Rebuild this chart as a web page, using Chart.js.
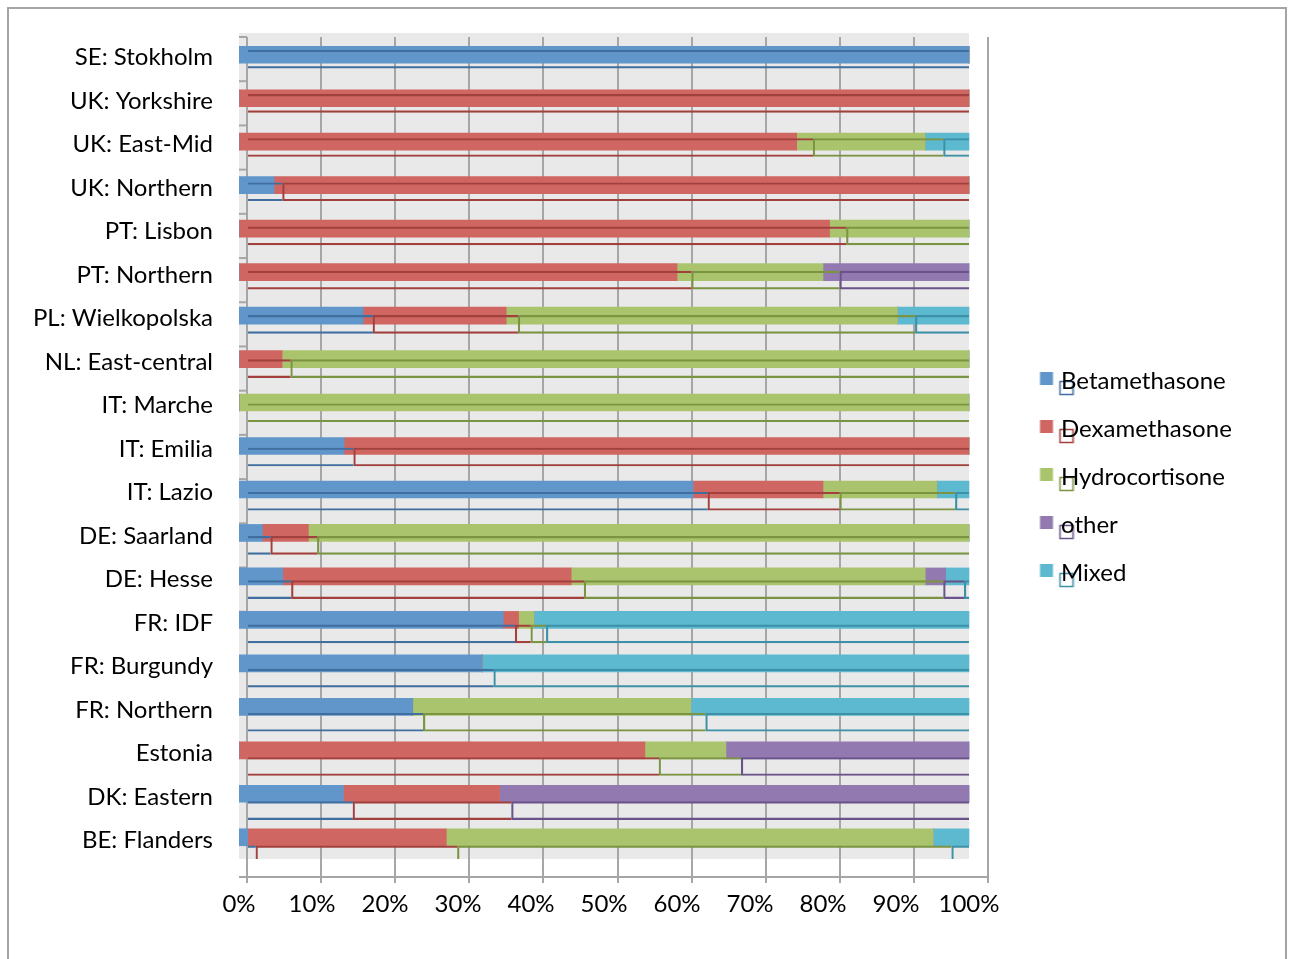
<!DOCTYPE html>
<html>
<head>
<meta charset="utf-8">
<script src="https://cdn.jsdelivr.net/npm/chart.js@4.4.1/dist/chart.umd.min.js"></script>
<style>
  html, body { margin: 0; padding: 0; background: #ffffff; }
  #frame { position: absolute; left: 7px; top: 7px; width: 1280px; height: 1010px; border: 2px solid #a4a4a4; box-sizing: border-box; }
  #wrap { position: absolute; left: 0; top: 0; width: 1294px; height: 959px; }
</style>
</head>
<body>
<div id="frame"></div>
<div id="wrap"><canvas id="chart" width="1294" height="959"></canvas></div>
<script>
// Share of each corticosteroid used, per region (percent of cases)
const regions = [
  'SE: Stokholm', 'UK: Yorkshire', 'UK: East-Mid', 'UK: Northern', 'PT: Lisbon',
  'PT: Northern', 'PL: Wielkopolska', 'NL: East-central', 'IT: Marche', 'IT: Emilia',
  'IT: Lazio', 'DE: Saarland', 'DE: Hesse', 'FR: IDF', 'FR: Burgundy',
  'FR: Northern', 'Estonia', 'DK: Eastern', 'BE: Flanders'
];
const drugNames = ['Betamethasone', 'Dexamethasone', 'Hydrocortisone', 'other', 'Mixed'];

const betamethasone  = [100, 0, 0, 4.8, 0, 0, 17.0, 0, 0, 14.4, 62.2, 3.2, 6.0, 36.2, 33.3, 23.8, 0, 14.3, 1.2];
const dexamethasone  = [0, 100, 76.4, 95.2, 80.9, 60.0, 19.6, 5.9, 0, 85.6, 17.8, 6.3, 39.5, 2.1, 0, 0, 55.6, 21.4, 27.2];
const hydrocortisone = [0, 0, 17.6, 0, 19.1, 20.0, 53.6, 94.1, 100, 0, 15.6, 90.5, 48.5, 2.1, 0, 38.1, 11.1, 0, 66.7];
const other          = [0, 0, 0, 0, 0, 20.0, 0, 0, 0, 0, 0, 0, 2.8, 0, 0, 0, 33.3, 64.3, 0];
const mixed          = [0, 0, 6.0, 0, 0, 0, 9.8, 0, 0, 0, 4.4, 0, 3.2, 59.6, 66.7, 38.1, 0, 0, 4.9];

const percentTicks = [0, 10, 20, 30, 40, 50, 60, 70, 80, 90, 100];

const series = [betamethasone, dexamethasone, hydrocortisone, other, mixed];
const faceColors = ['#6096ca', '#cf6661', '#aac46e', '#927ab0', '#5cb9cf'];
const edgeColors = ['#3f6e9f', '#a2403d', '#7b9442', '#6a538a', '#3d91a7'];
const gridColor = '#a6a6a6';
const fontFamily = 'Lato, "DejaVu Sans", sans-serif';
const labelFont = { family: fontFamily, size: 24 };

// Legend geometry: the legend sits right of the plot, its swatches starting 24px in
const legendPad = 24, legendSwatch = 9;
const measureCtx = document.createElement('canvas').getContext('2d');
measureCtx.font = '24px ' + fontFamily;
const widestName = Math.max(...drugNames.map(n => measureCtx.measureText(n).width));
const legendWidth = legendPad + legendSwatch + 12 + widestName + 10;
const legendLeft = 1016;
const rightPad = Math.max(0, 1294 - legendLeft - legendWidth);

// Legend icon: a filled face square with its depth outline just behind it
function legendIcon(face, edge) {
  const c = document.createElement('canvas');
  c.width = 60; c.height = 30;
  const g = c.getContext('2d');
  g.fillStyle = face;
  g.fillRect(25.5, 6, 13, 13);
  g.strokeStyle = edge;
  g.lineWidth = 1.5;
  g.strokeRect(45.5, 15.5, 13, 13);
  return c;
}

// Keep tick-label overhang from pushing the plot area around
const noOverhang = s => {
  s.paddingTop = 0; s.paddingBottom = 0; s.paddingLeft = 0; s.paddingRight = 0;
};

// Where a segment starts along its row (sum of the segments before it)
const segmentStart = (seriesIndex, row) => {
  let sum = 0;
  for (let j = 0; j < seriesIndex; j++) sum += series[j][row];
  return sum;
};

// Grey back wall behind the bars, and the row separators on the floor edge
const depthFrame = {
  id: 'depthFrame',
  beforeDraw(chart) {
    const { ctx, scales: { x, y } } = chart;
    const l = x.getPixelForValue(0), r = x.getPixelForValue(100);
    const t = y.getPixelForValue(-0.5), b = y.getPixelForValue(regions.length - 0.5);
    ctx.save();
    ctx.fillStyle = '#e9e9e9';
    ctx.fillRect(l, t, r - l, b - t);
    ctx.restore();
  },
  beforeDatasetsDraw(chart) {
    const { ctx, chartArea, scales: { y2 } } = chart;
    ctx.save();
    ctx.strokeStyle = gridColor;
    ctx.lineWidth = 2;
    for (let k = 0; k <= regions.length; k++) {
      const py = y2.getPixelForValue(k - 0.5);
      ctx.beginPath();
      ctx.moveTo(chartArea.left - 8, py);
      ctx.lineTo(chartArea.left, py);
      ctx.stroke();
    }
    ctx.restore();
  }
};

const rowPoints = vals => vals.map((v, i) => ({ x: v, y: i }));

// Depth outlines (drawn on top), then the front faces
const depthSets = series.map((vals, i) => ({
  label: drugNames[i] + ' depth',
  data: rowPoints(vals),
  xAxisID: 'x2', yAxisID: 'y2', order: 0,
  grouped: false,
  backgroundColor: 'rgba(0,0,0,0)',
  borderColor: edgeColors[i],
  borderSkipped: false,
  borderWidth: ctx => ({
    top: 1.5, bottom: 1.5, right: 0,
    left: ctx.dataIndex !== undefined && segmentStart(i, ctx.dataIndex) > 0 ? 1.5 : 0
  }),
  barThickness: 18,
  clip: { left: 0, top: 0, right: -19, bottom: -18 }
}));
const faceSets = series.map((vals, i) => ({
  label: drugNames[i],
  data: rowPoints(vals),
  xAxisID: 'x', yAxisID: 'y', order: 1,
  grouped: false,
  backgroundColor: faceColors[i],
  borderWidth: 0,
  barThickness: 17,
  clip: { left: 8, top: 4, right: 0, bottom: 0 }
}));

new Chart(document.getElementById('chart'), {
  type: 'bar',
  data: { datasets: [...depthSets, ...faceSets] },
  plugins: [depthFrame],
  options: {
    indexAxis: 'y',
    responsive: false,
    animation: false,
    events: [],
    layout: { padding: { left: 0, top: 37, right: rightPad, bottom: 42 } },
    scales: {
      x: {
        type: 'linear', position: 'bottom', weight: 1, stacked: true,
        min: 1.0959, max: 102.603,
        afterBuildTicks: s => { s.ticks = percentTicks.map(v => ({ value: v })); },
        afterFit: s => { s.height = 34; noOverhang(s); },
        grid: { display: false, drawTicks: false },
        border: { display: false },
        ticks: { autoSkip: false, maxRotation: 0, padding: 7, color: '#000', font: labelFont, callback: v => v + '%' }
      },
      x2: {
        type: 'linear', position: 'bottom', weight: 0, stacked: true,
        min: 0, max: 100,
        afterBuildTicks: s => { s.ticks = percentTicks.map(v => ({ value: v })); },
        afterFit: s => { s.height = 6; noOverhang(s); },
        grid: { color: gridColor, lineWidth: 2, drawTicks: true, tickLength: 6 },
        border: { display: true, color: gridColor, width: 2 },
        ticks: { display: false }
      },
      y: {
        type: 'linear', position: 'left', weight: 1, reverse: true, stacked: true, offset: false,
        min: -0.408, max: 18.914,
        afterBuildTicks: s => { s.ticks = regions.map((_, i) => ({ value: i })); },
        afterFit: s => { s.width = 247; noOverhang(s); },
        grid: { display: false, drawTicks: false, offset: false },
        border: { display: false },
        ticks: { autoSkip: false, padding: 34, labelOffset: 3, color: '#000', font: labelFont, callback: v => regions[v] }
      },
      y2: {
        type: 'linear', position: 'left', weight: 0, reverse: true, stacked: true, offset: false,
        display: false,
        min: -0.5, max: 18.5
      },
      yR: {
        type: 'linear', position: 'right', weight: 0, offset: false,
        display: false,
        afterFit: s => { s.width = 28; noOverhang(s); }
      }
    },
    plugins: {
      tooltip: { enabled: false },
      legend: {
        position: 'right',
        labels: {
          usePointStyle: true,
          pointStyleWidth: legendSwatch,
          padding: legendPad,
          color: '#000',
          font: labelFont,
          generateLabels: () => drugNames.map((name, i) => ({
            text: name,
            fillStyle: faceColors[i],
            strokeStyle: edgeColors[i],
            lineWidth: 0,
            pointStyle: legendIcon(faceColors[i], edgeColors[i]),
            hidden: false,
            datasetIndex: i + series.length,
            fontColor: '#000'
          }))
        }
      }
    }
  }
});
</script>
</body>
</html>
